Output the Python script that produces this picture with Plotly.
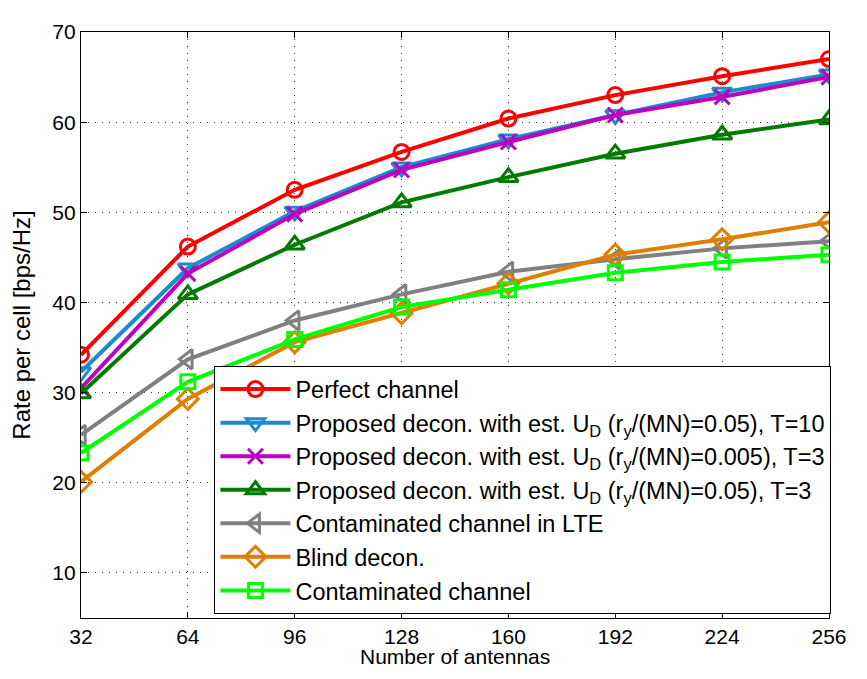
import plotly.graph_objects as go

antennas = [32, 64, 96, 128, 160, 192, 224, 256]
perfect = [34.2, 46.2, 52.5, 56.7, 60.4, 63.0, 65.1, 67.0]
prop_t10 = [32.3, 43.8, 50.1, 55.0, 58.1, 60.8, 63.3, 65.3]
prop_0005_t3 = [30.5, 43.2, 49.8, 54.7, 57.8, 60.8, 62.8, 65.0]
prop_005_t3 = [29.9, 40.9, 46.4, 51.1, 53.9, 56.5, 58.6, 60.3]
contam_lte = [25.3, 33.7, 38.0, 40.9, 43.4, 44.8, 46.0, 46.8]
blind = [20.1, 29.3, 35.6, 38.8, 42.1, 45.3, 47.0, 48.9]
contam = [23.3, 31.2, 35.9, 39.5, 41.4, 43.3, 44.5, 45.3]

names = [
    "Perfect channel",
    "Proposed decon. with est. U<sub>D</sub> (r<sub>y</sub>/(MN)=0.05), T=10",
    "Proposed decon. with est. U<sub>D</sub> (r<sub>y</sub>/(MN)=0.005), T=3",
    "Proposed decon. with est. U<sub>D</sub> (r<sub>y</sub>/(MN)=0.05), T=3",
    "Contaminated channel in LTE",
    "Blind decon.",
    "Contaminated channel",
]
series = [perfect, prop_t10, prop_0005_t3, prop_005_t3, contam_lte, blind, contam]
colors = ["#FF0000", "#1A8BCB", "#BF00BF", "#007A00", "#808080", "#E07E00", "#00FF00"]
symbols = ["circle-open", "triangle-down-open", "x-thin-open", "triangle-up-open",
           "triangle-left-open", "diamond-open", "square-open"]
sizes = [15, 17, 15, 17, 17, 16, 14]

fig = go.Figure()
for n, s, c, sym, sz in zip(names, series, colors, symbols, sizes):
    fig.add_trace(go.Scatter(
        x=antennas, y=s, name=n, mode="lines+markers",
        line=dict(color=c, width=4),
        marker=dict(symbol=sym, size=sz, color=c, line=dict(color=c, width=3)),
    ))

axis_common = dict(
    showline=True, linecolor="black", linewidth=1.3, mirror="ticks",
    ticks="inside", ticklen=6, tickcolor="black",
    showgrid=True, gridcolor="#333333", gridwidth=1, griddash="1px,6px",
    zeroline=False, tickfont=dict(size=21, color="black"),
    ticklabeloverflow="allow",
)
fig.update_xaxes(range=[32, 256], tickvals=antennas, **axis_common)
fig.update_yaxes(range=[5, 70], tickvals=[10, 20, 30, 40, 50, 60, 70], **axis_common,
                 title=dict(text="Rate per cell [bps/Hz]", font=dict(size=24, color="black"), standoff=15))

fig.add_annotation(
    text="Number of antennas", xref="paper", yref="paper", x=0.5, y=-0.0886,
    xanchor="center", yanchor="bottom", showarrow=False,
    font=dict(size=21, color="black"),
)

# page body has an 8px margin: figure sized so the page is 867x679
fig.update_layout(
    width=851, height=663,
    margin=dict(l=72, r=19, t=12, b=53),
    paper_bgcolor="white", plot_bgcolor="white",
    font=dict(family="Liberation Sans, Arial, sans-serif", color="black"),
    legend=dict(
        x=0.178, y=0.43, xanchor="left", yanchor="top",
        bgcolor="white", bordercolor="black", borderwidth=1.3,
        font=dict(size=23.5, color="black"), itemwidth=70, tracegroupgap=0,
    ),
)
fig.write_html("out.html")
